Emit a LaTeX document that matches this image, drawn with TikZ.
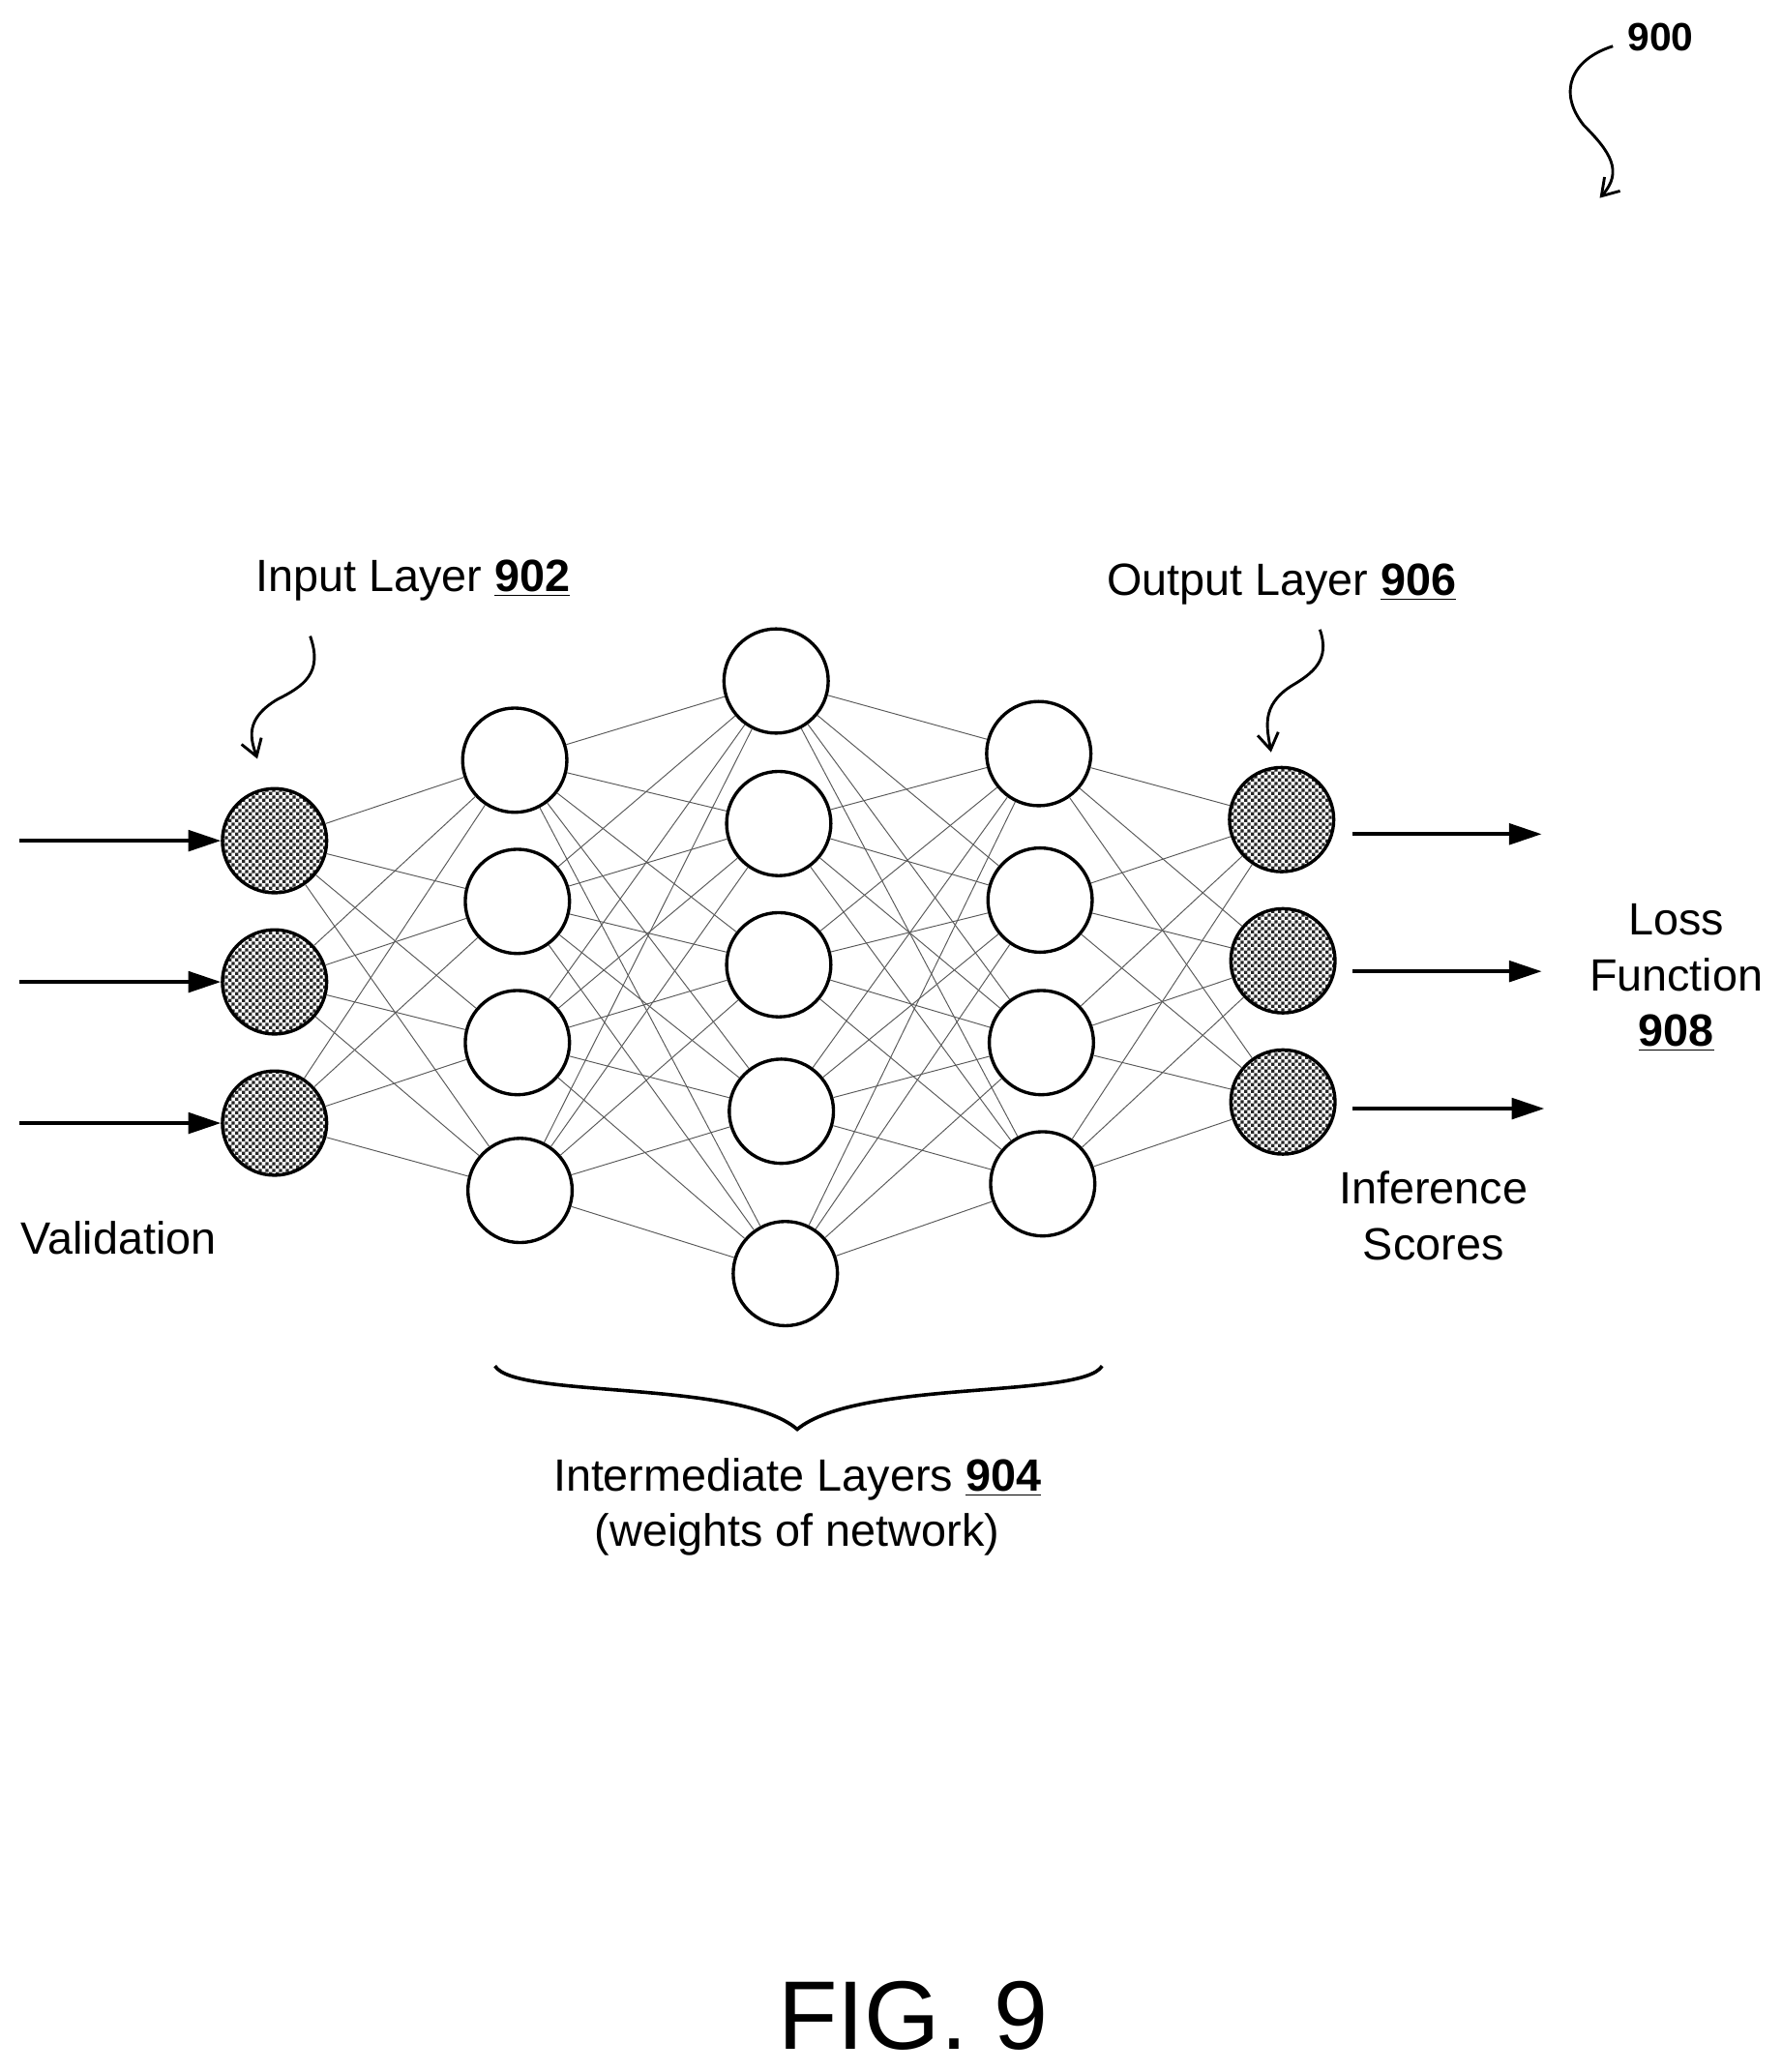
\documentclass[tikz,border=0pt]{standalone}
\usepackage{fontspec}
\setmainfont{Liberation Sans}
\usetikzlibrary{patterns,arrows.meta}
\pgfdeclarepatternformonly{finechecker}{\pgfpointorigin}{\pgfqpoint{3pt}{3pt}}{\pgfqpoint{3pt}{3pt}}{%
 \pgfpathrectangle{\pgfpointorigin}{\pgfqpoint{1.5pt}{1.5pt}}%
 \pgfpathrectangle{\pgfqpoint{1.5pt}{1.5pt}}{\pgfqpoint{1.5pt}{1.5pt}}%
 \pgfusepath{fill}}
\begin{document}
\begin{tikzpicture}[x=0.02cm,y=-0.02cm,
 neuron/.style={circle,draw,line width=1.4pt,minimum size=1.58cm,inner sep=0pt,fill=white},
 io/.style={neuron,pattern=finechecker,pattern color=black!85},
 conn/.style={line width=0.4pt,gray!70!black},
 arr/.style={line width=1.5pt,-{Triangle[length=14pt,width=9pt]}},
 curl/.style={line width=1.2pt,-{Straight Barb[length=7pt,width=9pt]}},
 lbl/.style={font=\fontsize{19.5pt}{24pt}\selectfont,align=center}]
\useasboundingbox (0,0) rectangle (1350,1570);
% nodes
\node[io] (i1) at (208,637) {};
\node[io] (i2) at (208,744) {};
\node[io] (i3) at (208,851) {};
\node[neuron] (a1) at (390,576) {};
\node[neuron] (a2) at (392,683) {};
\node[neuron] (a3) at (392,790) {};
\node[neuron] (a4) at (394,902) {};
\node[neuron] (b1) at (588,516) {};
\node[neuron] (b2) at (590,624) {};
\node[neuron] (b3) at (590,731) {};
\node[neuron] (b4) at (592,842) {};
\node[neuron] (b5) at (595,965) {};
\node[neuron] (c1) at (787,571) {};
\node[neuron] (c2) at (788,682) {};
\node[neuron] (c3) at (789,790) {};
\node[neuron] (c4) at (790,897) {};
\node[io] (o1) at (971,621) {};
\node[io] (o2) at (972,728) {};
\node[io] (o3) at (972,835) {};
\foreach \s in {i1,i2,i3}\foreach \t in {a1,a2,a3,a4}\draw[conn] (\s) -- (\t);
\foreach \s in {a1,a2,a3,a4}\foreach \t in {b1,b2,b3,b4,b5}\draw[conn] (\s) -- (\t);
\foreach \s in {b1,b2,b3,b4,b5}\foreach \t in {c1,c2,c3,c4}\draw[conn] (\s) -- (\t);
\foreach \s in {c1,c2,c3,c4}\foreach \t in {o1,o2,o3}\draw[conn] (\s) -- (\t);
% inputs/outputs
\coordinate (s1) at (15,637); \coordinate (s2) at (15,744); \coordinate (s3) at (15,851);
\draw[arr] (s1) -- (i1); \draw[arr] (s2) -- (i2); \draw[arr] (s3) -- (i3);
\coordinate (e1) at (1168,632); \coordinate (e2) at (1168,736); \coordinate (e3) at (1170,840);
\coordinate (f1) at (1025,632); \coordinate (f2) at (1025,736); \coordinate (f3) at (1025,840);
\draw[arr] (f1) -- (e1); \draw[arr] (f2) -- (e2); \draw[arr] (f3) -- (e3);
% labels
\node[lbl] (tin) at (313,440) {Input Layer \textbf{\underline{902}}};
\node[lbl] (tout) at (971,443) {Output Layer \textbf{\underline{906}}};
\node[lbl] (tloss) at (1270,741) {Loss\\Function\\\textbf{\underline{908}}};
\node[lbl] (tinf) at (1086,921) {Inference\\Scores};
\node[lbl] (tval) at (90,938) {Validation};
\node[lbl] (tint) at (604,1142) {Intermediate Layers \textbf{\underline{904}}\\(weights of network)};
\node[font=\fontsize{42pt}{48pt}\selectfont] (fig) at (692,1527) {FIG. 9};
\node[font=\fontsize{17pt}{20pt}\selectfont\bfseries] (t900) at (1258,28) {900};
% brace
\draw[line width=1.5pt] (375,1035) .. controls (390,1060) and (560,1045) .. (604,1083) .. controls (650,1045) and (820,1060) .. (835,1035);
% curly arrows
\draw[curl] (235,482) .. controls (245,510) and (230,520) .. (210,530) .. controls (185,545) and (190,560) .. (195,575);
\draw[curl] (1000,477) .. controls (1008,500) and (995,510) .. (978,520) .. controls (955,535) and (960,552) .. (963,570);
\draw[curl] (1222,35) .. controls (1190,45) and (1180,70) .. (1200,95) .. controls (1220,115) and (1230,130) .. (1212,150);
\end{tikzpicture}
\end{document}
